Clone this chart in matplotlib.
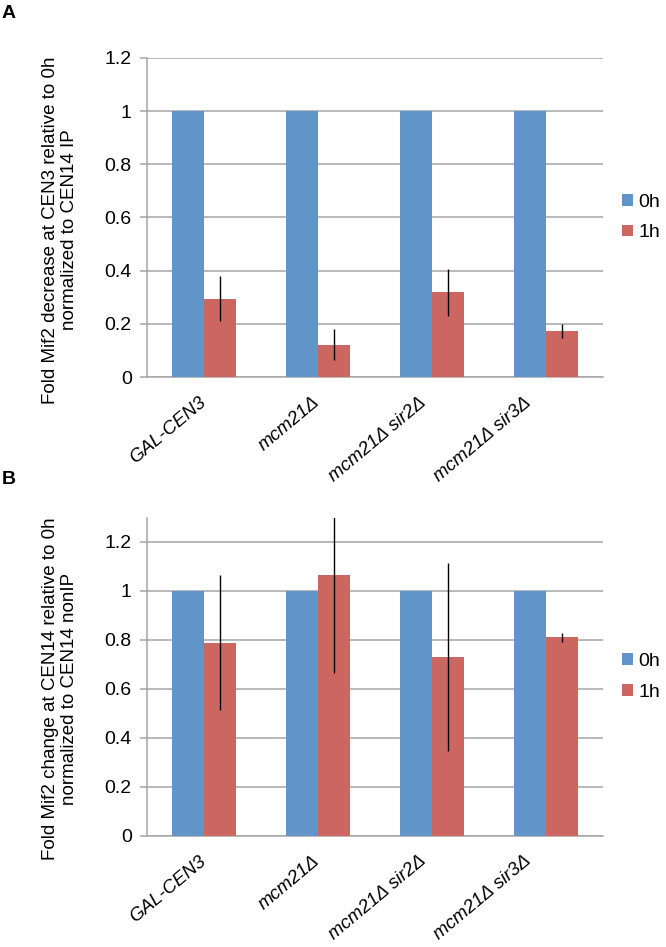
import matplotlib
matplotlib.use("Agg")
import matplotlib.pyplot as plt
import numpy as np

plt.rcParams["font.family"] = ["Liberation Sans", "DejaVu Sans"]

strains = ["GAL-CEN3", "mcm21\u0394", "mcm21\u0394 sir2\u0394", "mcm21\u0394 sir3\u0394"]
series_names = ["0h", "1h"]

# Panel A: CEN3 relative to 0h, normalized to CEN14 IP
a_0h = [1.0, 1.0, 1.0, 1.0]
a_1h = [0.295, 0.122, 0.319, 0.173]
a_1h_err = [0.085, 0.058, 0.089, 0.026]

# Panel B: CEN14 relative to 0h, normalized to CEN14 nonIP
b_0h = [1.0, 1.0, 1.0, 1.0]
b_1h = [0.788, 1.063, 0.728, 0.810]
b_1h_err = [0.275, 0.40, 0.384, 0.018]

yticks = [0, 0.2, 0.4, 0.6, 0.8, 1, 1.2]
ytick_labels = ["0", "0.2", "0.4", "0.6", "0.8", "1", "1.2"]

BLUE = "#6195C9"
RED = "#CC6660"
GRID = "#A6A6A6"
FS = 14
# Excel shifts longer rotated labels further left of the category centre
label_shift = [-0.045, -0.055, -0.115, -0.2]


def draw(ax, v0, v1, err, ymax):
    x = np.arange(len(strains))
    w = 0.28
    ax.bar(x - w / 2, v0, w, color=BLUE, label=series_names[0], zorder=3)
    ax.bar(x + w / 2, v1, w, color=RED, label=series_names[1], zorder=3)
    ax.errorbar(x + w / 2, v1, yerr=err, fmt="none", ecolor="black",
                elinewidth=1.0, capsize=0, zorder=4)
    ax.set_xlim(-0.5, len(strains) - 0.5)
    ax.set_ylim(0, ymax)
    ax.set_yticks(yticks)
    ax.set_yticklabels(ytick_labels, fontsize=FS)
    ax.yaxis.grid(True, color=GRID, linewidth=1.1, zorder=0)
    ax.set_axisbelow(True)
    for side in ("top", "right"):
        ax.spines[side].set_visible(False)
    for side in ("left", "bottom"):
        ax.spines[side].set_color(GRID)
        ax.spines[side].set_linewidth(1.1)
    ax.tick_params(axis="y", length=5, width=1.1, color=GRID, pad=6)
    ax.tick_params(axis="x", length=0, pad=12)
    ax.set_xticks(x + np.array(label_shift))
    ax.set_xticklabels(strains, rotation=40, ha="right", rotation_mode="anchor",
                       fontsize=13.5, fontstyle="italic")
    ax.legend(loc="center left", bbox_to_anchor=(1.025, 0.5), frameon=False,
              fontsize=FS, handlelength=0.55, handleheight=0.55,
              handletextpad=0.3, labelspacing=0.7, borderaxespad=0)


fig = plt.figure(figsize=(6.66, 9.47), dpi=100)
ax_a = fig.add_axes([0.2207, 0.6019, 0.6847, 0.3369])
ax_b = fig.add_axes([0.2207, 0.1175, 0.6847, 0.3358])

draw(ax_a, a_0h, a_1h, a_1h_err, 1.2)
draw(ax_b, b_0h, b_1h, b_1h_err, 1.297)

fig.text(0.09, 0.757, "Fold Mif2 decrease at CEN3 relative to 0h\nnormalized to CEN14 IP",
         rotation=90, ha="center", va="center", fontsize=13.5, linespacing=1.1)
fig.text(0.09, 0.273, "Fold Mif2 change at CEN14 relative to 0h\nnormalized to CEN14 nonIP",
         rotation=90, ha="center", va="center", fontsize=13.5, linespacing=1.1)

fig.text(0.003, 0.995, "A", fontsize=14, fontweight="bold", ha="left", va="top")
fig.text(0.003, 0.503, "B", fontsize=14, fontweight="bold", ha="left", va="top")

fig.savefig("out.png", dpi=100)
